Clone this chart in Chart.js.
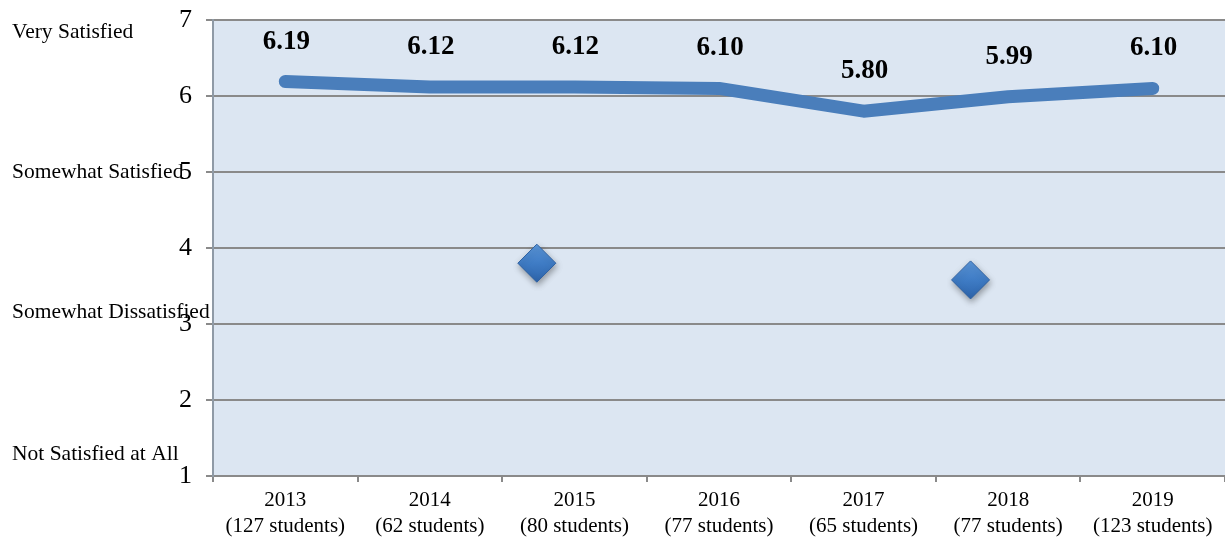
<!DOCTYPE html>
<html>
<head>
<meta charset="utf-8">
<script src="https://cdn.jsdelivr.net/npm/chart.js@4.4.1/dist/chart.umd.min.js"></script>
<style>
  html, body { margin: 0; padding: 0; background: #ffffff; }
  #wrap { width: 1225px; height: 540px; position: relative; }
</style>
</head>
<body>
<div id="wrap"><canvas id="c" width="1225" height="540"></canvas></div>
<script>
// ---- data ----
const years = ['2013', '2014', '2015', '2016', '2017', '2018', '2019'];
const studentCounts = ['(127 students)', '(62 students)', '(80 students)', '(77 students)', '(65 students)', '(77 students)', '(123 students)'];
const meanSatisfaction = [6.19, 6.12, 6.12, 6.10, 5.80, 5.99, 6.10];
const markerX = [1.74, 4.74];
const markerY = [3.80, 3.58];
const scaleLabels = ['Very Satisfied', 'Somewhat Satisfied', 'Somewhat Dissatisfied', 'Not Satisfied at All'];
const yMin = 1, yMax = 7, yStep = 1;

const categoryLabels = years.map((y, i) => [y, studentCounts[i]]);
const markerPoints = markerX.map((x, i) => ({ x: x, y: markerY[i] }));

const SERIF = '"Liberation Serif", "Times New Roman", serif';

const plotBg = {
  id: 'plotBg',
  beforeDraw(chart) {
    const { ctx, chartArea: a } = chart;
    ctx.save();
    ctx.fillStyle = '#dce6f2';
    ctx.fillRect(a.left, a.top, a.right - a.left, a.bottom - a.top);
    ctx.restore();
  }
};

const markerShadow = {
  id: 'markerShadow',
  beforeDatasetDraw(chart, args) {
    if (args.index === 1) {
      const ctx = chart.ctx;
      ctx.save();
      ctx.shadowColor = 'rgba(0,0,0,0.35)';
      ctx.shadowBlur = 6;
      ctx.shadowOffsetX = 1;
      ctx.shadowOffsetY = 3;
    }
  },
  afterDatasetDraw(chart, args) {
    if (args.index === 1) chart.ctx.restore();
  }
};

const valueLabels = {
  id: 'valueLabels',
  afterDatasetsDraw(chart) {
    const { ctx } = chart;
    const meta = chart.getDatasetMeta(0);
    ctx.save();
    ctx.font = 'bold 27px ' + SERIF;
    ctx.fillStyle = '#000000';
    ctx.textAlign = 'center';
    ctx.textBaseline = 'middle';
    meta.data.forEach((pt, i) => {
      ctx.fillText(meanSatisfaction[i].toFixed(2), pt.x + 1, pt.y - 40);
    });
    ctx.restore();
  }
};

const sideLabels = {
  id: 'sideLabels',
  afterDraw(chart) {
    const { ctx } = chart;
    const y = chart.scales.y;
    const anchors = [6.84, 5.0, 3.15, 1.28];
    ctx.save();
    ctx.font = '21.5px ' + SERIF;
    ctx.fillStyle = '#000000';
    ctx.textAlign = 'left';
    ctx.textBaseline = 'middle';
    scaleLabels.forEach((t, i) => {
      ctx.fillText(t, 12, y.getPixelForValue(anchors[i]));
    });
    ctx.restore();
  }
};

function diamondFill(c) {
  const chart = c.chart;
  if (!chart.chartArea || c.type !== 'data') return '#3e7bc4';
  const py = chart.scales.y.getPixelForValue(markerY[c.dataIndex]);
  const g = chart.ctx.createLinearGradient(0, py - 19, 0, py + 19);
  g.addColorStop(0, '#5b96d9');
  g.addColorStop(0.5, '#3f7cc5');
  g.addColorStop(1, '#2d64ab');
  return g;
}

new Chart(document.getElementById('c'), {
  type: 'line',
  data: {
    labels: categoryLabels,
    datasets: [
      {
        data: meanSatisfaction,
        borderColor: '#4a7ebb',
        borderWidth: 13,
        borderCapStyle: 'round',
        borderJoinStyle: 'round',
        pointRadius: 0,
        pointHoverRadius: 0,
        tension: 0,
        fill: false
      },
      {
        data: markerPoints,
        xAxisID: 'x2',
        showLine: false,
        pointStyle: 'rectRot',
        pointRadius: 19,
        pointHoverRadius: 19,
        backgroundColor: diamondFill,
        borderColor: '#2f62a3',
        borderWidth: 1
      }
    ]
  },
  options: {
    responsive: false,
    animation: false,
    devicePixelRatio: 1,
    layout: { autoPadding: false, padding: { top: 20, right: 0, bottom: 0, left: 0 } },
    plugins: {
      legend: { display: false },
      tooltip: { enabled: false }
    },
    events: [],
    scales: {
      x: {
        type: 'category',
        offset: true,
        grid: {
          offset: true,
          drawOnChartArea: false,
          drawTicks: true,
          tickLength: 6,
          color: '#8a8a8a',
          lineWidth: 2
        },
        border: { display: true, color: '#8a8a8a', width: 2 },
        ticks: {
          color: '#000000',
          font: { family: SERIF, size: 21, lineHeight: 1.22 },
          padding: 6,
          maxRotation: 0,
          autoSkip: false
        },
        afterFit(scale) { scale.height = 64; scale.paddingLeft = 0; scale.paddingRight = 0; }
      },
      x2: {
        type: 'linear',
        display: false,
        min: -0.5,
        max: 6.5,
        afterFit(scale) { scale.paddingLeft = 0; scale.paddingRight = 0; }
      },
      y: {
        min: yMin,
        max: yMax,
        ticks: {
          stepSize: yStep,
          color: '#000000',
          font: { family: SERIF, size: 26 },
          padding: 14
        },
        grid: {
          color: '#8a8a8a',
          lineWidth: 2,
          drawTicks: true,
          tickLength: 7
        },
        border: { display: true, color: '#8f9aa6', width: 2 },
        afterFit(scale) { scale.width = 213; scale.paddingTop = 0; scale.paddingBottom = 0; }
      }
    }
  },
  plugins: [plotBg, markerShadow, valueLabels, sideLabels]
});
</script>
</body>
</html>
